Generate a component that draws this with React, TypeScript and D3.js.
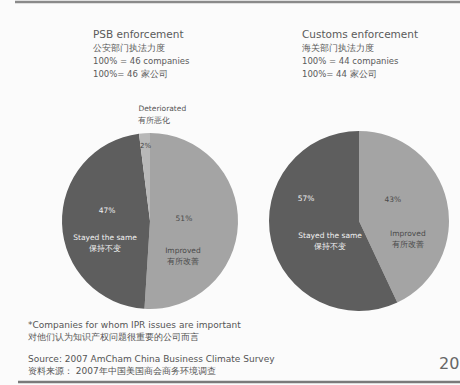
import React from "react";
import * as d3 from "d3";

const psbCategories = ["Improved", "Stayed the same", "Deteriorated"];
const psbCategoriesZh = ["有所改善", "保持不变", "有所恶化"];
const psbValues = [51, 47, 2];
const customsCategories = ["Improved", "Stayed the same"];
const customsCategoriesZh = ["有所改善", "保持不变"];
const customsValues = [43, 57];
const psbTitle = ["PSB enforcement", "公安部门执法力度", "100% = 46 companies", "100%= 46 家公司"];
const customsTitle = ["Customs enforcement", "海关部门执法力度", "100% = 44 companies", "100%= 44 家公司"];
const footnotes = [
  "*Companies for whom IPR issues are important",
  "对他们认为知识产权问题很重要的公司而言",
];
const sources = [
  "Source: 2007 AmCham China Business Climate Survey",
  "资料来源： 2007年中国美国商会商务环境调查",
];

const COLORS: Record<string, string> = {
  "Improved": "#a4a4a4",
  "Stayed the same": "#5e5e5e",
  "Deteriorated": "#b8b8b8",
};
const TEXT_COLORS: Record<string, string> = {
  "Improved": "#4a4a4a",
  "Stayed the same": "#f2f2f2",
  "Deteriorated": "#4a4a4a",
};
const FONT = "'DejaVu Sans', Verdana, sans-serif";

function Pie({ cx, cy, r, cats, zh, values, pctPos, namePos, labelR }: any) {
  const data = cats.map((c: string, i: number) => ({ c, z: zh[i], v: values[i] }));
  const arcs = d3.pie<any>().sort(null).value((d) => d.v)(data);
  const arc = d3.arc<any>().innerRadius(0).outerRadius(r);
  const lab = d3.arc<any>().innerRadius(labelR * r).outerRadius(labelR * r);
  return (
    <g transform={`translate(${cx},${cy})`}>
      {arcs.map((a, i) => (
        <path key={i} d={arc(a) || ""} fill={COLORS[a.data.c]} />
      ))}
      {arcs.map((a, i) => {
        if (a.data.c === "Deteriorated") {
          const [x] = d3.arc<any>().innerRadius(r * 0.82).outerRadius(r * 0.82).centroid(a);
          return (
            <g key={"l" + i}>
              <text x={x} y={-r + 15} fontSize={7} fill="#444" textAnchor="middle">{a.data.v}%</text>
              <text x={x - 7} y={-r - 22} fontSize={7.5} fill="#555">{a.data.c}</text>
              <text x={x - 7} y={-r - 10} fontSize={7.5} fill="#555">{a.data.z}</text>
            </g>
          );
        }
        const [x] = lab.centroid(a);
        const k = a.data.c;
        return (
          <g key={"l" + i} fill={TEXT_COLORS[k]} fontSize={7.5} textAnchor="middle">
            <text x={x + pctPos[k][0]} y={pctPos[k][1]}>{a.data.v}%</text>
            <text x={x + namePos[k][0]} y={namePos[k][1]}>{k}</text>
            <text x={x + namePos[k][0]} y={namePos[k][1] + 11}>{a.data.z}</text>
          </g>
        );
      })}
    </g>
  );
}

export default function App() {
  return (
    <svg width={460} height={385} style={{ display: "block", position: "absolute", left: 0, top: 0, background: "#fbfbfb", fontFamily: FONT }}>
      <rect x={0} y={0} width={460} height={385} fill="#fbfbfb" />
      <line x1={15} x2={460} y1={2} y2={2} stroke="#8a8a8a" strokeWidth={2.5} />
      <g fill="#5a5a5a">
        {psbTitle.map((t, i) => (
          <text key={i} x={93} y={38 + i * 13} fontSize={i === 0 ? 10.5 : 8.5}>{t}</text>
        ))}
        {customsTitle.map((t, i) => (
          <text key={i} x={302} y={38 + i * 13} fontSize={i === 0 ? 10.5 : 8.5}>{t}</text>
        ))}
      </g>
      <Pie cx={150} cy={221} r={88} cats={psbCategories} zh={psbCategoriesZh} values={psbValues}
        labelR={0.42}
        pctPos={{ "Improved": [-3, 0], "Stayed the same": [-6, -8] }}
        namePos={{ "Improved": [-4, 32], "Stayed the same": [-8, 19] }} />
      <Pie cx={359} cy={221} r={90} cats={customsCategories} zh={customsCategoriesZh} values={customsValues}
        labelR={0.42}
        pctPos={{ "Improved": [-3, -19], "Stayed the same": [-16, -20] }}
        namePos={{ "Improved": [12, 15], "Stayed the same": [8, 17] }} />
      <g fontSize={9} fill="#555">
        {footnotes.map((t, i) => (
          <text key={i} x={28} y={328 + i * 12}>{t}</text>
        ))}
        {sources.map((t, i) => (
          <text key={i} x={28} y={362 + i * 12}>{t}</text>
        ))}
      </g>
      <text x={439} y={369} fontSize={16} fill="#666">20</text>
      <line x1={18} x2={460} y1={382} y2={382} stroke="#7a7a7a" strokeWidth={2.5} />
    </svg>
  );
}
